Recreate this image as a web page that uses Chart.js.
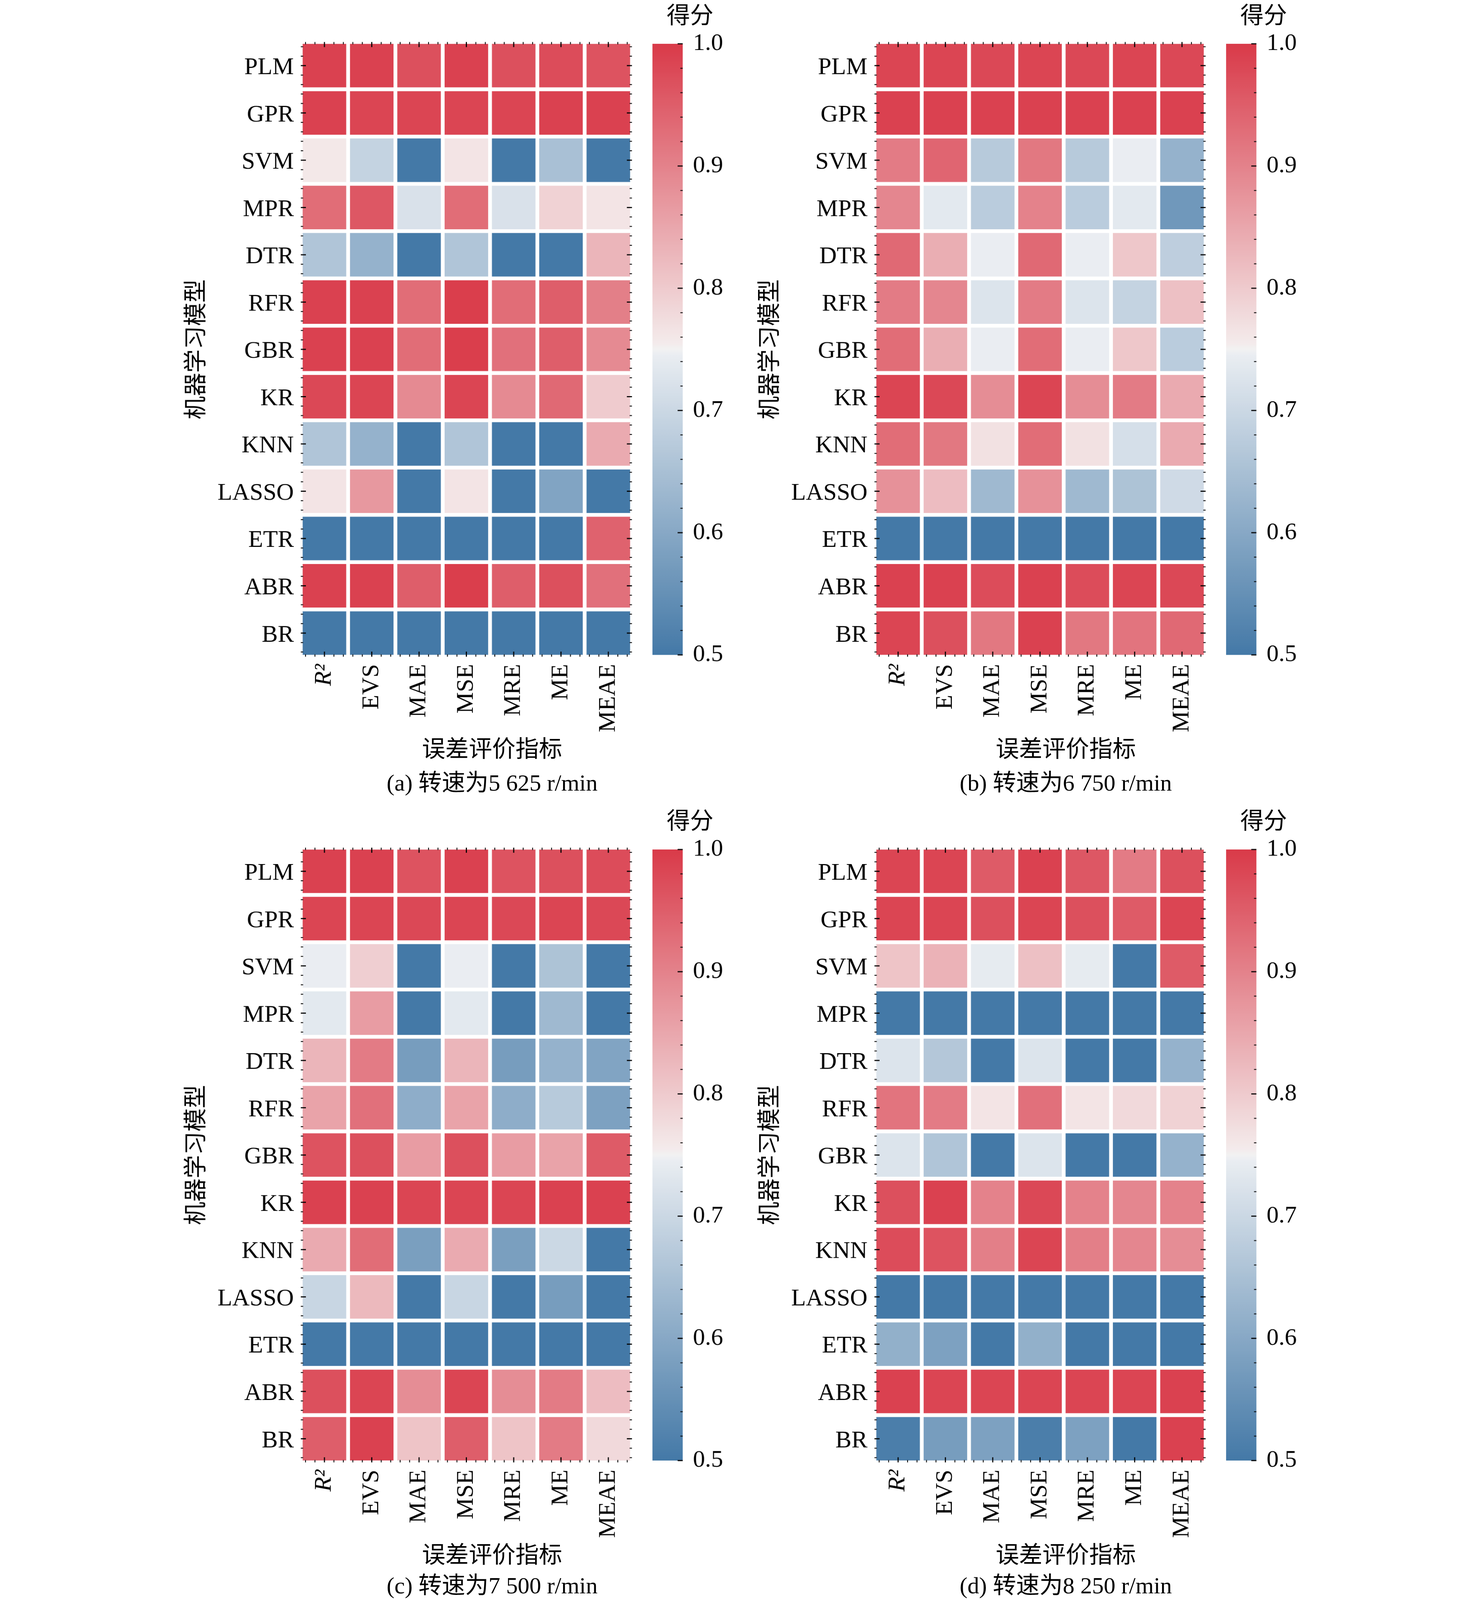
<!DOCTYPE html>
<html>
<head>
<meta charset="utf-8">
<script src="https://cdn.jsdelivr.net/npm/chart.js@4.4.1/dist/chart.umd.min.js"></script>
<style>
html,body{margin:0;padding:0;background:#fff;overflow:hidden;}
body{font-family:'Liberation Serif','Noto Sans CJK SC',serif;color:#000;}
#fig{position:absolute;left:0;top:0;width:3780px;height:4383px;transform-origin:0 0;background:#fff;}
canvas{position:absolute;}
.t{position:absolute;white-space:nowrap;line-height:1;font-size:64px;transform:translate(-50%,-50%);}
.r{transform:translate(-50%,-50%) rotate(-90deg);}
</style>
</head>
<body>
<div id="fig"></div>
<script>
// ---------- data ----------
const models = ['PLM','GPR','SVM','MPR','DTR','RFR','GBR','KR','KNN','LASSO','ETR','ABR','BR'];
const metrics = ['R²','EVS','MAE','MSE','MRE','ME','MEAE'];
const colorbarTicks = [0.5,0.6,0.7,0.8,0.9,1.0];
const captions = ['(a) 转速为5 625 r/min','(b) 转速为6 750 r/min','(c) 转速为7 500 r/min','(d) 转速为8 250 r/min'];

const scores5625 = [
  [0.99,0.99,0.97,0.99,0.97,0.975,0.965],
  [0.99,0.985,0.985,0.985,0.985,0.99,0.99],
  [0.76,0.69,0.45,0.765,0.45,0.65,0.45],
  [0.93,0.96,0.72,0.93,0.72,0.79,0.765],
  [0.66,0.62,0.45,0.66,0.45,0.45,0.83],
  [0.99,0.99,0.93,0.995,0.93,0.95,0.905],
  [0.99,0.99,0.93,0.995,0.925,0.95,0.89],
  [0.98,0.985,0.89,0.985,0.89,0.935,0.80],
  [0.66,0.62,0.45,0.66,0.45,0.45,0.845],
  [0.765,0.87,0.45,0.765,0.45,0.59,0.45],
  [0.45,0.45,0.45,0.45,0.45,0.45,0.945],
  [0.99,0.99,0.95,0.995,0.95,0.97,0.925],
  [0.45,0.45,0.45,0.45,0.45,0.45,0.45]
];
const scores6750 = [
  [0.985,0.985,0.98,0.985,0.98,0.985,0.98],
  [0.99,0.99,0.99,0.99,0.99,0.99,0.99],
  [0.91,0.94,0.67,0.915,0.67,0.745,0.62],
  [0.895,0.735,0.675,0.90,0.675,0.735,0.565],
  [0.935,0.84,0.745,0.935,0.745,0.805,0.68],
  [0.91,0.895,0.725,0.91,0.725,0.69,0.815],
  [0.93,0.84,0.745,0.93,0.745,0.805,0.675],
  [0.985,0.98,0.885,0.985,0.885,0.91,0.845],
  [0.93,0.915,0.77,0.93,0.77,0.715,0.845],
  [0.88,0.82,0.635,0.88,0.635,0.655,0.705],
  [0.45,0.45,0.45,0.45,0.45,0.45,0.45],
  [0.99,0.99,0.975,0.99,0.975,0.985,0.98],
  [0.985,0.97,0.915,0.99,0.915,0.92,0.935]
];
const scores7500 = [
  [0.99,0.99,0.965,0.99,0.965,0.97,0.975],
  [0.985,0.985,0.98,0.985,0.98,0.985,0.98],
  [0.745,0.795,0.45,0.745,0.45,0.655,0.45],
  [0.735,0.865,0.45,0.735,0.45,0.635,0.45],
  [0.83,0.91,0.575,0.83,0.575,0.62,0.59],
  [0.855,0.925,0.61,0.855,0.61,0.67,0.585],
  [0.965,0.97,0.865,0.97,0.865,0.855,0.955],
  [0.99,0.99,0.985,0.985,0.985,0.99,0.99],
  [0.845,0.93,0.58,0.845,0.58,0.70,0.45],
  [0.695,0.825,0.45,0.695,0.45,0.575,0.45],
  [0.45,0.45,0.45,0.45,0.45,0.45,0.45],
  [0.97,0.985,0.885,0.985,0.885,0.91,0.82],
  [0.95,0.99,0.81,0.95,0.81,0.91,0.78]
];
const scores8250 = [
  [0.985,0.985,0.955,0.99,0.96,0.91,0.97],
  [0.985,0.985,0.97,0.985,0.97,0.955,0.985],
  [0.81,0.835,0.74,0.815,0.74,0.45,0.955],
  [0.45,0.45,0.45,0.45,0.45,0.45,0.45],
  [0.725,0.665,0.45,0.725,0.45,0.45,0.62],
  [0.92,0.91,0.765,0.925,0.765,0.78,0.79],
  [0.725,0.66,0.45,0.725,0.45,0.45,0.62],
  [0.97,0.99,0.90,0.98,0.90,0.895,0.90],
  [0.975,0.965,0.905,0.985,0.905,0.895,0.885],
  [0.45,0.45,0.45,0.45,0.45,0.45,0.45],
  [0.615,0.585,0.45,0.615,0.45,0.45,0.45],
  [0.99,0.985,0.985,0.985,0.985,0.985,0.99],
  [0.51,0.575,0.585,0.51,0.585,0.45,0.99]
];

// ---------- fit the 3780x4383 figure into the viewport ----------
const FIG_W = 3780, FIG_H = 4383;
const fig = document.getElementById('fig');
const vw = window.innerWidth || FIG_W, vh = window.innerHeight || FIG_H;
const sc = Math.min(1, vw/FIG_W, vh/FIG_H);
fig.style.transform = `scale(${sc})`;
fig.style.left = Math.max(0,(vw - FIG_W*sc)/2) + 'px';

// ---------- styling ----------
const FAM = "'Liberation Serif','Noto Sans CJK SC',serif";
const FS = 66;
const cmapStops = [[0,[68,121,167]],[0.497,[236,239,243]],[0.5,[242,242,242]],[0.503,[244,238,238]],[1,[217,58,73]]];
function cmap(v){
  let t = (v-0.5)/0.5; t = Math.max(0,Math.min(1,t));
  for(let i=1;i<cmapStops.length;i++){
    const [t1,c1]=cmapStops[i];
    if(t<=t1){
      const [t0,c0]=cmapStops[i-1];
      const f=(t-t0)/(t1-t0||1);
      const c=c0.map((x,k)=>Math.round(x+(c1[k]-x)*f));
      return `rgb(${c[0]},${c[1]},${c[2]})`;
    }
  }
  const c=cmapStops[cmapStops.length-1][1];
  return `rgb(${c[0]},${c[1]},${c[2]})`;
}

Chart.defaults.animation = false;
Chart.defaults.color = '#000';
Chart.defaults.font.family = FAM;
Chart.defaults.font.size = FS;

const inwardTicks = {
  id:'inwardTicks',
  afterDraw(chart, args, opts){
    const c = chart.ctx, a = chart.chartArea;
    c.save();
    c.strokeStyle = '#000';
    c.lineCap = 'butt';
    const line=(x1,y1,x2,y2,w)=>{c.lineWidth=w;c.beginPath();c.moveTo(x1,y1);c.lineTo(x2,y2);c.stroke();};
    const fr=[0.1,0.3,0.5,0.7,0.9];
    if(opts.heat){
      const xs=chart.scales.x, ys=chart.scales.y;
      for(let i=0;i<opts.nx;i++) for(const f of fr){
        const px=xs.getPixelForDecimal((i+f)/opts.nx);
        const M=f===0.5, L=M?14:6.5, w=M?3:2.3;
        line(px,a.top,px,a.top+L,w); line(px,a.bottom,px,a.bottom-L,w);
      }
      for(let j=0;j<opts.ny;j++) for(const f of fr){
        const py=ys.getPixelForValue(j+f);
        const M=f===0.5, L=M?14:6.5, w=M?3:2.3;
        line(a.left,py,a.left+L,py,w); line(a.right,py,a.right-L,py,w);
      }
    }
    if(opts.cbar){
      const ys=chart.scales.y;
      for(let k=0;k<=25;k++){
        const v=0.5+k*0.02, py=ys.getPixelForValue(v);
        const M=k%5===0, L=M?14:6.5, w=M?3:2.3;
        line(a.right,py,a.right-L,py,w);
      }
    }
    c.restore();
  }
};

function addText(txt,cx,cy,rot){
  const d=document.createElement('div');
  d.className='t'+(rot?' r':'');
  d.textContent=txt;
  d.style.left=cx+'px'; d.style.top=cy+'px';
  fig.appendChild(d);
}
function makeCanvas(l,t,w,h){
  const cv=document.createElement('canvas');
  cv.width=w; cv.height=h;
  cv.style.left=l+'px'; cv.style.top=t+'px';
  cv.style.width=w+'px'; cv.style.height=h+'px';
  fig.appendChild(cv);
  return cv;
}

const panels = [
  {ax:691, ay:115, data:scores5625, cap:captions[0], capDy:2030},
  {ax:2262, ay:115, data:scores6750, cap:captions[1], capDy:2030},
  {ax:691, ay:2322, data:scores7500, cap:captions[2], capDy:2022},
  {ax:2262, ay:2322, data:scores8250, cap:captions[3], capDy:2022}
];
const AW=907, AH=1684;

panels.forEach(p=>{
  // heatmap
  const LW=330, TP=20, RP=20, BH=320;
  const cv=makeCanvas(p.ax-LW, p.ay-TP, LW+AW+RP, TP+AH+BH);
  const datasets = models.map((m,r)=>({
    label:m,
    data: metrics.map((k,c)=>({x:k, y:[r,r+1], v:p.data[r][c]})),
    backgroundColor: ctx=>cmap(ctx.raw.v),
    borderColor:'#ffffff',
    borderWidth:5.5,
    borderSkipped:false,
    grouped:false,
    categoryPercentage:1,
    barPercentage:1
  }));
  new Chart(cv,{
    type:'bar',
    data:{labels:metrics, datasets},
    options:{
      responsive:false, devicePixelRatio:1,
      layout:{padding:{left:0,top:TP,right:RP,bottom:0}},
      plugins:{legend:{display:false},tooltip:{enabled:false},inwardTicks:{heat:true,nx:metrics.length,ny:models.length}},
      scales:{
        x:{type:'category', offset:true,
           grid:{display:false,drawTicks:false}, border:{display:false},
           ticks:{autoSkip:false,minRotation:90,maxRotation:90,padding:20,
             font:(ctx)=>({family:FAM,size:FS,style:ctx.index===0?'italic':'normal'})},
           afterFit:(s)=>{s.height=BH;s.paddingLeft=0;s.paddingRight=0;}},
        y:{type:'linear', min:0, max:models.length, reverse:true,
           grid:{display:false,drawTicks:false}, border:{display:false},
           afterBuildTicks:(s)=>{s.ticks=models.map((m,i)=>({value:i+0.5}));},
           ticks:{autoSkip:false,padding:19,labelOffset:6,callback:(v,i)=>models[i]},
           afterFit:(s)=>{s.width=LW;s.paddingTop=0;s.paddingBottom=0;}}
      }
    },
    plugins:[inwardTicks]
  });

  // colorbar
  const CX=p.ax+963, CY=p.ay+5, CW=83, CH=1674;
  const cl=20, ct=40, cr=200, cb=40;
  const cv2=makeCanvas(CX-cl, CY-ct, cl+CW+cr, ct+CH+cb);
  new Chart(cv2,{
    type:'bar',
    data:{labels:['score'], datasets:[{
      data:[{x:'score', y:[colorbarTicks[0], colorbarTicks[colorbarTicks.length-1]]}],
      backgroundColor:(ctx)=>{
        const ch=ctx.chart; if(!ch.chartArea) return '#fff';
        const ys=ch.scales.y;
        const y0=ys.getPixelForValue(0.5), y1=ys.getPixelForValue(1.0);
        const g=ch.ctx.createLinearGradient(0,y0,0,y1);
        for(let k=0;k<=100;k++){ g.addColorStop(k/100, cmap(0.5+0.5*k/100)); }
        return g;
      },
      borderWidth:0, categoryPercentage:1, barPercentage:1
    }]},
    options:{
      responsive:false, devicePixelRatio:1,
      layout:{padding:{left:cl,top:ct,right:0,bottom:cb}},
      plugins:{legend:{display:false},tooltip:{enabled:false},inwardTicks:{cbar:true}},
      scales:{
        x:{type:'category', display:false, offset:true},
        y:{type:'linear', position:'right', min:0.5, max:1.0,
           grid:{display:false,drawTicks:false}, border:{display:false},
           afterBuildTicks:(s)=>{s.ticks=colorbarTicks.map(v=>({value:v}));},
           ticks:{padding:28, callback:(v)=>Number(v).toFixed(1)},
           afterFit:(s)=>{s.width=cr;s.paddingTop=0;s.paddingBottom=0;}}
      }
    },
    plugins:[inwardTicks]
  });

  // free text
  addText('得分', p.ax+1066, p.ay-72, false);
  addText('机器学习模型', p.ax-287, p.ay+842, true);
  addText('误差评价指标', p.ax+524, p.ay+1938, false);
  addText(p.cap, p.ax+524, p.ay+p.capDy, false);
});
</script>
</body>
</html>
